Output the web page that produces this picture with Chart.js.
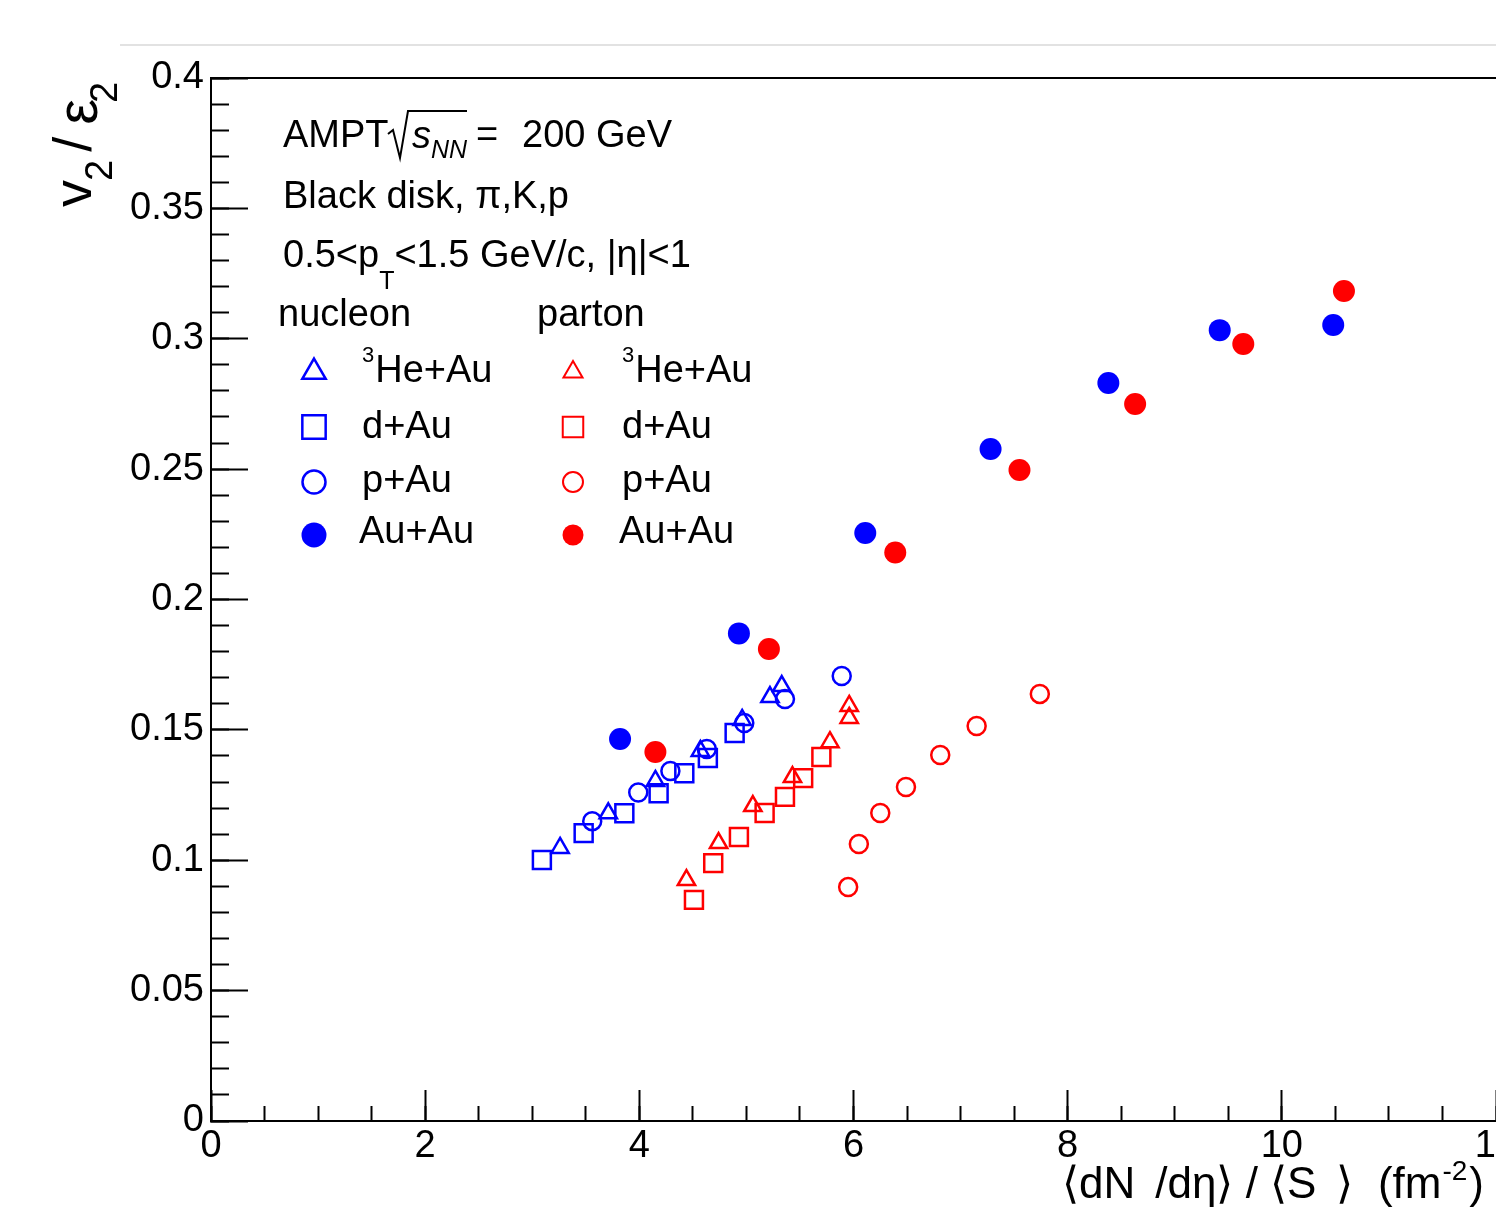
<!DOCTYPE html>
<html>
<head>
<meta charset="utf-8">
<script src="https://cdn.jsdelivr.net/npm/chart.js@4.4.1/dist/chart.umd.min.js"></script>
<style>
  html, body { margin: 0; padding: 0; background: #fff; overflow: hidden; }
  #wrap { width: 1496px; height: 1207px; overflow: hidden; }
</style>
</head>
<body>
<div id="wrap"><canvas id="chart" width="1496" height="1207"></canvas></div>
<script>
// nucleon (blue)
const nucHeAuX = [3.26, 3.71, 4.15, 4.57, 4.96, 5.22, 5.33];
const nucHeAuY = [0.1047, 0.118, 0.1304, 0.1419, 0.1538, 0.1626, 0.1668];
const nucDAuX = [3.09, 3.48, 3.86, 4.18, 4.42, 4.64, 4.89];
const nucDAuY = [0.1001, 0.1104, 0.118, 0.1257, 0.1334, 0.1392, 0.1488];
const nucPAuX = [3.56, 3.99, 4.29, 4.63, 4.98, 5.36, 5.89];
const nucPAuY = [0.115, 0.126, 0.1342, 0.1427, 0.1526, 0.1618, 0.1707];
const nucAuAuX = [3.82, 4.93, 6.11, 7.28, 8.38, 9.42, 10.48];
const nucAuAuY = [0.1465, 0.187, 0.2255, 0.2577, 0.283, 0.3033, 0.3053];

// parton (red)
const parHeAuX = [4.44, 4.74, 5.06, 5.43, 5.78, 5.96, 5.96];
const parHeAuY = [0.0924, 0.1066, 0.1208, 0.1319, 0.1453, 0.1546, 0.1592];
const parDAuX = [4.51, 4.69, 4.93, 5.17, 5.36, 5.53, 5.70];
const parDAuY = [0.0848, 0.0989, 0.1089, 0.1181, 0.1243, 0.1315, 0.1396];
const parPAuX = [5.95, 6.05, 6.25, 6.49, 6.81, 7.15, 7.74];
const parPAuY = [0.0897, 0.1062, 0.1181, 0.1281, 0.1404, 0.1515, 0.1638];
const parAuAuX = [4.15, 5.21, 6.39, 7.55, 8.63, 9.64, 10.58];
const parAuAuY = [0.1415, 0.181, 0.218, 0.2497, 0.275, 0.298, 0.3183];

// axes
const xTickVals = [0, 2, 4, 6, 8, 10, 12];
const yTickVals = [0, 0.05, 0.1, 0.15, 0.2, 0.25, 0.3, 0.35, 0.4];
const systems = ["He+Au", "d+Au", "p+Au", "Au+Au"];

const FONT = '"Liberation Sans", Arial, Helvetica, sans-serif';
const BLUE = "#0000ff";
const RED = "#ff0000";

function series(label, xs, ys, color, style, radius, filled) {
  return {
    label: label,
    data: xs.map((x, i) => ({ x: x, y: ys[i] })),
    pointStyle: style,
    pointRadius: radius,
    pointHoverRadius: radius,
    borderColor: color,
    backgroundColor: filled ? color : "rgba(0,0,0,0)",
    borderWidth: filled ? 0 : 2.5,
    showLine: false
  };
}

// draws a run of text pieces (sub/superscripts) left to right
function runText(ctx, x, y, parts) {
  for (const p of parts) {
    ctx.font = (p.it ? "italic " : "") + p.size + "px " + FONT;
    ctx.fillText(p.t, x, y + (p.dy || 0));
    x += ctx.measureText(p.t).width + (p.gap || 0);
  }
  return x;
}

const decorations = {
  id: "decorations",
  afterDraw(chart) {
    const ctx = chart.ctx;
    const area = chart.chartArea;
    ctx.save();

    // faint page line and top frame
    ctx.strokeStyle = "#e2e2e2";
    ctx.lineWidth = 2;
    ctx.beginPath(); ctx.moveTo(120, 45); ctx.lineTo(1496, 45); ctx.stroke();
    ctx.strokeStyle = "#000";
    ctx.lineWidth = 2;
    ctx.beginPath(); ctx.moveTo(area.left - 1, area.top); ctx.lineTo(chart.width, area.top); ctx.stroke();

    ctx.fillStyle = "#000";
    ctx.textBaseline = "alphabetic";
    ctx.textAlign = "left";

    // header text
    ctx.font = "38px " + FONT;
    ctx.fillText("AMPT", 283, 147);
    ctx.lineWidth = 2;
    ctx.beginPath();
    ctx.moveTo(388, 134); ctx.lineTo(393, 130); ctx.lineTo(400, 158);
    ctx.lineTo(408, 111); ctx.lineTo(467, 111);
    ctx.stroke();
    runText(ctx, 412, 148, [{ t: "s", size: 38, it: true }]);
    runText(ctx, 431, 158, [{ t: "NN", size: 25, it: true }]);
    runText(ctx, 476, 147, [{ t: "=", size: 38 }]);
    runText(ctx, 522, 147, [{ t: "200 GeV", size: 38 }]);
    runText(ctx, 283, 208, [{ t: "Black disk, \u03c0,K,p", size: 38 }]);
    let x = runText(ctx, 283, 267, [{ t: "0.5<p", size: 38 }]);
    x = runText(ctx, x, 289, [{ t: "T", size: 25 }]);
    runText(ctx, x, 267, [{ t: "<1.5 GeV/c, |\u03b7|<1", size: 38 }]);

    runText(ctx, 278, 326, [{ t: "nucleon", size: 38 }]);
    runText(ctx, 537, 326, [{ t: "parton", size: 38 }]);

    // legend rows
    const rowsY = [372, 427, 482, 535];
    const blueM = [
      { pointStyle: "triangle", radius: 13.5, filled: false },
      { pointStyle: "rect", radius: 16.5, filled: false },
      { pointStyle: "circle", radius: 11.5, filled: false },
      { pointStyle: "circle", radius: 12.5, filled: true }
    ];
    const redM = [
      { pointStyle: "triangle", radius: 11, filled: false },
      { pointStyle: "rect", radius: 14.5, filled: false },
      { pointStyle: "circle", radius: 10, filled: false },
      { pointStyle: "circle", radius: 10.5, filled: true }
    ];
    const cols = [
      { mx: 314, tx: 362, color: BLUE, marks: blueM, lw: 2.5 },
      { mx: 573, tx: 622, color: RED, marks: redM, lw: 2 }
    ];
    cols.forEach(col => {
      col.marks.forEach((m, i) => {
        ctx.strokeStyle = col.color;
        ctx.fillStyle = m.filled ? col.color : "rgba(0,0,0,0)";
        ctx.lineWidth = col.lw;
        Chart.helpers.drawPoint(ctx, {
          pointStyle: m.pointStyle, radius: m.radius, rotation: 0,
          borderWidth: m.filled ? 0 : col.lw
        }, col.mx, rowsY[i]);
      });
      ctx.fillStyle = "#000";
      const base = [382, 438, 492, 543];
      let tx = runText(ctx, col.tx, 362, [{ t: "3", size: 22 }]);
      runText(ctx, tx + 1, base[0], [{ t: systems[0], size: 38 }]);
      runText(ctx, col.tx, base[1], [{ t: systems[1], size: 38 }]);
      runText(ctx, col.tx, base[2], [{ t: systems[2], size: 38 }]);
      runText(ctx, col.tx - 3, base[3], [{ t: systems[3], size: 38 }]);
    });

    // x axis title (its bottom, with the subscripts, is cut off as in the reference)
    ctx.fillStyle = "#000";
    x = runText(ctx, 1062, 1198, [{ t: "\u27e8dN", size: 44 }]);
    runText(ctx, x + 1, 1226, [{ t: "ch", size: 22 }]);
    x = runText(ctx, x + 20, 1198, [{ t: "/d\u03b7\u27e9 / \u27e8S", size: 44 }]);
    runText(ctx, x + 2, 1226, [{ t: "\u22a5", size: 22 }]);
    x = runText(ctx, x + 20, 1198, [{ t: "\u27e9  (fm", size: 44 }]);
    x = runText(ctx, x + 1, 1180, [{ t: "-2", size: 28 }]);
    runText(ctx, x + 2, 1198, [{ t: ")", size: 44 }]);

    // y axis title, rotated
    ctx.save();
    ctx.translate(91, 207);
    ctx.rotate(-Math.PI / 2);
    let yx = runText(ctx, 0, 0, [{ t: "v", size: 54 }]);
    yx = runText(ctx, yx - 1, 21, [{ t: "2", size: 38 }]);
    yx = runText(ctx, yx + 8, 0, [{ t: "/", size: 54 }]);
    yx = runText(ctx, yx + 12, 6, [{ t: "\u03b5", size: 58 }]);
    runText(ctx, yx - 4, 26, [{ t: "2", size: 38 }]);
    ctx.restore();

    ctx.restore();
  }
};

const tickFont = { family: FONT, size: 38 };

new Chart(document.getElementById("chart"), {
  type: "scatter",
  data: {
    datasets: [
      series("nucleon He+Au", nucHeAuX, nucHeAuY, BLUE, "triangle", 10, false),
      series("nucleon d+Au", nucDAuX, nucDAuY, BLUE, "rect", 12.7, false),
      series("nucleon p+Au", nucPAuX, nucPAuY, BLUE, "circle", 9, false),
      series("parton He+Au", parHeAuX, parHeAuY, RED, "triangle", 10, false),
      series("parton d+Au", parDAuX, parDAuY, RED, "rect", 12.7, false),
      series("parton p+Au", parPAuX, parPAuY, RED, "circle", 9, false),
      series("nucleon Au+Au", nucAuAuX, nucAuAuY, BLUE, "circle", 11, true),
      series("parton Au+Au", parAuAuX, parAuAuY, RED, "circle", 11, true)
    ]
  },
  options: {
    responsive: false,
    animation: false,
    layout: { autoPadding: false, padding: { top: 78, left: 0, right: 0, bottom: 0 } },
    plugins: { legend: { display: false }, tooltip: { enabled: false } },
    scales: {
      x: {
        type: "linear", position: "bottom", weight: 1, min: 0, max: 12,
        afterBuildTicks: s => { s.ticks = xTickVals.map(v => ({ value: v })); },
        afterFit: s => { s.height = 86; s.paddingLeft = 0; s.paddingRight = 0; },
        grid: { drawOnChartArea: false, tickLength: -31, tickWidth: 2, tickColor: "#000" },
        border: { display: true, color: "#000", width: 2 },
        ticks: { autoSkip: false, maxRotation: 0, padding: 34, color: "#000", font: tickFont,
                 callback: v => String(v) }
      },
      xMinor: {
        type: "linear", position: "bottom", weight: 0, min: 0, max: 12,
        afterFit: s => { s.height = 0; s.paddingLeft = 0; s.paddingRight = 0; },
        grid: { drawOnChartArea: false, tickLength: -15, tickWidth: 2, tickColor: "#000" },
        border: { display: false },
        ticks: { display: false, stepSize: 0.5, maxTicksLimit: 100, autoSkip: false }
      },
      y: {
        type: "linear", position: "left", weight: 1, min: 0, max: 0.4,
        afterBuildTicks: s => { s.ticks = yTickVals.map(v => ({ value: v })); },
        afterFit: s => { s.width = 211; s.paddingTop = 0; s.paddingBottom = 0; },
        grid: { drawOnChartArea: false, tickLength: -37, tickWidth: 2, tickColor: "#000" },
        border: { display: true, color: "#000", width: 2 },
        ticks: { autoSkip: false, padding: 44, color: "#000", font: tickFont,
                 callback: v => String(v) }
      },
      yMinor: {
        type: "linear", position: "left", weight: 0, min: 0, max: 0.4,
        afterFit: s => { s.width = 0; s.paddingTop = 0; s.paddingBottom = 0; },
        grid: { drawOnChartArea: false, tickLength: -18, tickWidth: 2, tickColor: "#000" },
        border: { display: false },
        ticks: { display: false, stepSize: 0.01, maxTicksLimit: 100, autoSkip: false }
      }
    }
  },
  plugins: [decorations]
});
</script>
</body>
</html>
